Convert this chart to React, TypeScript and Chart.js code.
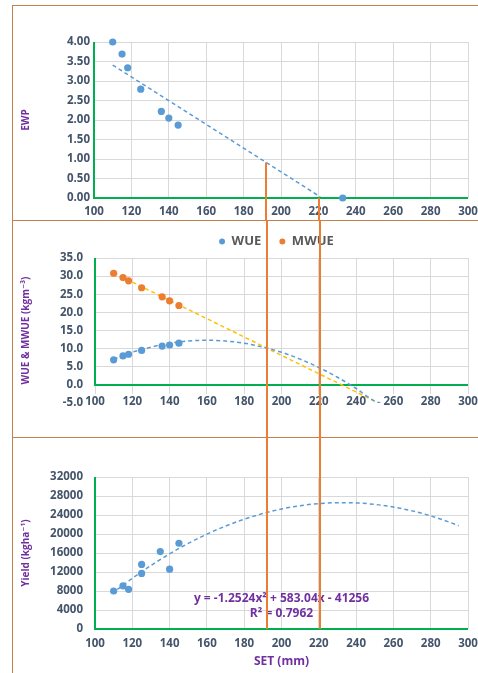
import { useEffect, useRef } from "react";
import { Chart, registerables } from "chart.js";

Chart.register(...registerables);

// ---------- data ----------
const xTickMin = 100;
const xTickMax = 300;
const xTickStep = 20;

// Panel 1: EWP
const ewpX = [110, 115, 118, 125, 136, 140, 145, 233];
const ewpY = [4.0, 3.69, 3.34, 2.79, 2.22, 2.05, 1.87, 0.0];
const ewpTrendX = [110, 221];
const ewpTrendY = [3.41, 0.03];

// Panel 2: WUE & MWUE
const wueX = [110, 115, 118, 125, 136, 140, 145];
const wueY = [6.9, 8.0, 8.45, 9.5, 10.7, 11.0, 11.5];
const mwueY = [30.8, 29.6, 28.7, 26.8, 24.3, 23.2, 21.9];
const wueTrendX = [110, 120, 130, 140, 150, 160, 170, 180, 190, 200, 210, 220, 230, 240, 250, 253];
const wueTrendY = [7.1, 9.0, 10.4, 11.5, 12.1, 12.3, 12.1, 11.5, 10.4, 9.0, 7.1, 4.8, 2.1, -1.0, -4.5, -5.0];
const mwueTrendX = [110, 252];
const mwueTrendY = [30.9, -5.0];
const legendNames = ["WUE", "MWUE"];

// Panel 3: Yield
const yieldX = [110, 115, 118, 125, 125, 135, 140, 145];
const yieldY = [8000, 9100, 8350, 13600, 11700, 16300, 12600, 18050];
const yieldTrendX = [112, 120, 130, 140, 150, 160, 170, 180, 190, 200, 210, 220, 230, 240, 250, 260, 270, 280, 290, 295];
const yieldTrendY = [8330, 10670, 13370, 15820, 18020, 19970, 21670, 23110, 24310, 25260, 25950, 26400, 26590, 26540, 26230, 25670, 24870, 23810, 22490, 21750];
const equationLines = ["y = -1.2524x² + 583.04x - 41256", "R² = 0.7962"];
const equationAnchorX = 200;
const equationAnchorY = [6500, 3300];

// Vertical reference lines (SET values)
const markerX = [192, 220.5];
const markerStartEWP = [0.91, 0];

// ---------- styles ----------
const BLUE = "#5B9BD5";
const ORANGE = "#ED7D31";
const GOLD = "#FFC000";
const GREEN = "#00B050";
const GRID = "#D9D9D9";
const BROWN = "#C0804F";
const TICK_COLOR = "#44546A";
const TITLE_COLOR = "#7030A0";
const FONT = "'Open Sans', 'DejaVu Sans', sans-serif";
const tickFont = { family: FONT, size: 11.5, weight: "bold" as const };
const LEGEND_GAP = "   ";

const pts = (xs: number[], ys: number[]) => xs.map((x, i) => ({ x, y: ys[i] }));

const decoPlugin = {
  id: "deco",
  beforeDatasetsDraw(chart: any) {
    const { ctx, chartArea, scales } = chart;
    const x = scales.x;
    const y = scales.y;
    const y0 = y.getPixelForValue(0);
    const x0 = x.getPixelForValue(x.min);
    ctx.save();
    ctx.strokeStyle = GREEN;
    ctx.lineWidth = 2;
    ctx.beginPath();
    ctx.moveTo(chartArea.left, y0);
    ctx.lineTo(chartArea.right, y0);
    ctx.moveTo(x0, y0 + 1);
    ctx.lineTo(x0, chartArea.top);
    ctx.stroke();
    ctx.restore();
  },
  afterDatasetsDraw(chart: any, _a: any, opts: any) {
    const { ctx, scales } = chart;
    const x = scales.x;
    const y = scales.y;
    ctx.save();
    if (opts.separator) {
      ctx.strokeStyle = BROWN;
      ctx.lineWidth = 1;
      ctx.beginPath();
      ctx.moveTo(0, chart.height - 0.5);
      ctx.lineTo(chart.width, chart.height - 0.5);
      ctx.stroke();
    }
    if (opts.labels) {
      ctx.fillStyle = TITLE_COLOR;
      ctx.font = `bold 12px ${FONT}`;
      ctx.textAlign = "center";
      ctx.textBaseline = "middle";
      opts.labels.forEach((l: any) => {
        ctx.fillText(l.text, x.getPixelForValue(l.x), y.getPixelForValue(l.y));
      });
    }
    ctx.strokeStyle = ORANGE;
    ctx.lineWidth = 2;
    (opts.markers || []).forEach((m: any) => {
      const xp = Math.round(x.getPixelForValue(m.x));
      const top = m.from != null ? y.getPixelForValue(m.from) : 0;
      const bot = m.to != null ? y.getPixelForValue(m.to) : chart.height;
      ctx.beginPath();
      ctx.moveTo(xp, top);
      ctx.lineTo(xp, bot);
      ctx.stroke();
    });
    ctx.restore();
  },
};

function xScale(height: number, padding: number, title?: string, anchorValue?: number) {
  const anchored = anchorValue !== undefined;
  return {
    type: "linear",
    position: anchored ? { y: anchorValue } : "bottom",
    min: xTickMin,
    max: xTickMax,
    ticks: {
      stepSize: xTickStep,
      color: TICK_COLOR,
      font: tickFont,
      padding,
      maxRotation: 0,
      autoSkip: false,
      showLabelBackdrop: anchored,
      backdropColor: "#ffffff",
      backdropPadding: 1,
    },
    grid: { color: GRID, drawTicks: false, lineWidth: 1 },
    border: { display: false },
    title: title
      ? { display: true, text: title, color: TITLE_COLOR, font: { family: FONT, size: 12, weight: "bold" }, padding: { top: 0, bottom: 4 } }
      : { display: false },
    afterFit: (s: any) => {
      if (!anchored) s.height = height;
      s.paddingLeft = 0;
      s.paddingRight = 10;
    },
  };
}

function yScale(
  min: number,
  max: number,
  step: number,
  digits: number,
  title: string,
  width: number,
  areaTop: number,
  tickPadding: number,
  hideMinGrid = false
) {
  return {
    type: "linear",
    min,
    max,
    ticks: {
      stepSize: step,
      color: TICK_COLOR,
      font: tickFont,
      padding: tickPadding,
      callback: (v: any) => (digits > 0 ? Number(v).toFixed(digits) : String(v)),
    },
    grid: {
      color: (c: any) => (hideMinGrid && c.tick && c.tick.value === min ? "rgba(0,0,0,0)" : GRID),
      drawTicks: false,
      lineWidth: 1,
    },
    border: { display: false },
    title: { display: true, text: title, color: TITLE_COLOR, font: { family: FONT, size: 10, weight: "bold" }, padding: { top: 7, bottom: 0 } },
    afterFit: (s: any) => {
      s.width = width;
      s.paddingTop = areaTop;
      s.paddingBottom = 0;
    },
  };
}

const scatterDs = (label: string, data: any[], color: string) => ({
  type: "scatter",
  label,
  data,
  backgroundColor: color,
  borderColor: color,
  borderWidth: 0,
  pointRadius: 3.6,
  pointHoverRadius: 3.6,
  clip: false,
});

const trendDs = (label: string, data: any[], color: string) => ({
  type: "line",
  label,
  data,
  borderColor: color,
  backgroundColor: color,
  borderWidth: 1.5,
  borderDash: [4, 3],
  pointRadius: 0,
  fill: false,
  tension: 0.4,
  cubicInterpolationMode: "monotone",
});

export default function App() {
  const r1 = useRef<HTMLCanvasElement>(null);
  const r2 = useRef<HTMLCanvasElement>(null);
  const r3 = useRef<HTMLCanvasElement>(null);

  useEffect(() => {
    const base = {
      animation: false,
      responsive: true,
      maintainAspectRatio: false,
      events: [],
    };

    const c1 = new Chart(r1.current!, {
      type: "scatter",
      data: {
        datasets: [
          scatterDs("EWP", pts(ewpX, ewpY), BLUE),
          trendDs("EWP trend", pts(ewpTrendX, ewpTrendY), BLUE),
        ],
      } as any,
      options: {
        ...base,
        layout: { padding: { top: 0, right: 0, left: 0, bottom: 0 } },
        scales: { x: xScale(23, 7), y: yScale(0, 4, 0.5, 2, "EWP", 81, 36, 4) } as any,
        plugins: {
          legend: { display: false },
          tooltip: { enabled: false },
          deco: {
            separator: true,
            markers: markerX.map((mx, i) => ({ x: mx, from: markerStartEWP[i] })),
          },
        } as any,
      } as any,
      plugins: [decoPlugin],
    });

    const c2 = new Chart(r2.current!, {
      type: "scatter",
      data: {
        datasets: [
          scatterDs(legendNames[0], pts(wueX, wueY), BLUE),
          scatterDs(legendNames[1], pts(wueX, mwueY), ORANGE),
          trendDs("WUE trend", pts(wueTrendX, wueTrendY), BLUE),
          trendDs("MWUE trend", pts(mwueTrendX, mwueTrendY), GOLD),
        ],
      } as any,
      options: {
        ...base,
        layout: { padding: { top: 1.5, right: 10, left: 0, bottom: 35 } },
        scales: { x: xScale(35, -8, undefined, -5), y: yScale(-5, 35, 5, 1, "WUE & MWUE (kgm⁻³)", 82, 37, 12, true) } as any,
        plugins: {
          legend: {
            display: true,
            position: "top",
            fullSize: false,
            align: "center",
            labels: {
              usePointStyle: true,
              pointStyle: "circle",
              boxWidth: 6,
              boxHeight: 4.2,
              padding: 8,
              color: "#595959",
              font: { family: FONT, size: 13, weight: "bold" },
              filter: (item: any) => item.datasetIndex < 2,
              generateLabels: (chart: any) =>
                Chart.defaults.plugins.legend.labels.generateLabels(chart).map((l: any) => ({
                  ...l,
                  text: l.datasetIndex < 2 ? l.text + LEGEND_GAP : l.text,
                  lineWidth: 0,
                })),
            },
          },
          tooltip: { enabled: false },
          deco: {
            separator: true,
            markers: markerX.map((mx) => ({ x: mx })),
          },
        } as any,
      } as any,
      plugins: [decoPlugin],
    });

    const c3 = new Chart(r3.current!, {
      type: "scatter",
      data: {
        datasets: [
          scatterDs("Yield", pts(yieldX, yieldY), BLUE),
          trendDs("Yield trend", pts(yieldTrendX, yieldTrendY), BLUE),
        ],
      } as any,
      options: {
        ...base,
        layout: { padding: { top: 0, right: 0, left: 0, bottom: 0 } },
        scales: { x: xScale(44, 8, "SET (mm)"), y: yScale(0, 32000, 4000, 0, "Yield (kgha⁻¹)", 82, 39, 12) } as any,
        plugins: {
          legend: { display: false },
          tooltip: { enabled: false },
          deco: {
            separator: false,
            labels: equationLines.map((t, i) => ({ text: t, x: equationAnchorX, y: equationAnchorY[i] })),
            markers: markerX.map((mx) => ({ x: mx, to: 0 })),
          },
        } as any,
      } as any,
      plugins: [decoPlugin],
    });

    return () => {
      c1.destroy();
      c2.destroy();
      c3.destroy();
    };
  }, []);

  const panel = (top: number, height: number, ref: any) => (
    <div style={{ position: "absolute", left: 13, top, width: 465, height }}>
      <canvas ref={ref} />
    </div>
  );

  return (
    <div style={{ position: "absolute", left: 0, top: 0, width: 478, height: 673, background: "#fff", overflow: "hidden" }}>
      <div
        style={{
          position: "absolute",
          left: 12,
          top: 5,
          right: -2,
          bottom: -2,
          borderLeft: `1px solid ${BROWN}`,
          borderTop: `1px solid ${BROWN}`,
        }}
      />
      {panel(6, 215, r1)}
      {panel(221, 217, r2)}
      {panel(438, 235, r3)}
    </div>
  );
}
